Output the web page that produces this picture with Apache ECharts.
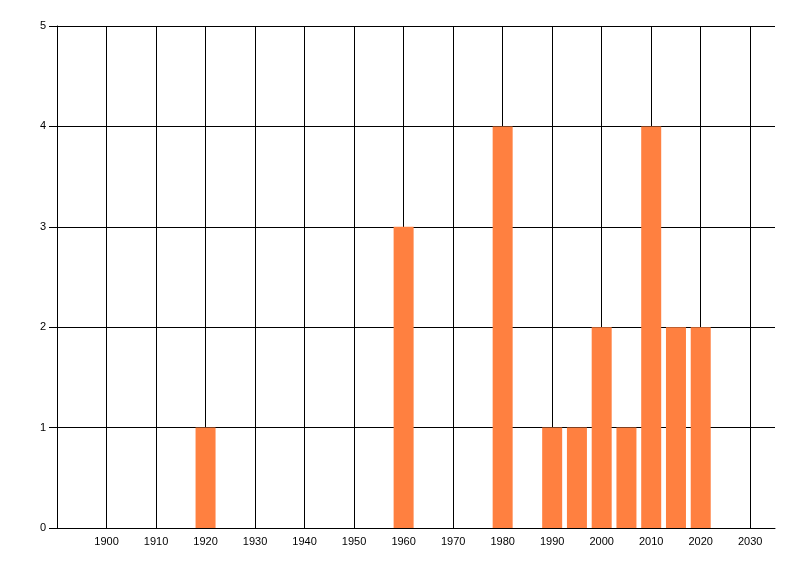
<!DOCTYPE html>
<html>
<head>
<meta charset="utf-8">
<script src="https://cdn.jsdelivr.net/npm/echarts@6/dist/echarts.min.js"></script>
<style>
  html, body { margin: 0; padding: 0; background: #fff; }
  #chart { width: 800px; height: 576px; }
</style>
</head>
<body>
<div id="chart"></div>
<script>
var years = [1920, 1960, 1980, 1990, 1995, 2000, 2005, 2010, 2015, 2020];
var counts = [1, 3, 4, 1, 1, 2, 1, 4, 2, 2];
var xMin = 1890, xMax = 2035, xStep = 10;
var yMin = 0, yMax = 5, yStep = 1;

var myChart = echarts.init(document.getElementById('chart'));
var textStyle = { fontFamily: 'Liberation Sans', fontSize: 11, color: '#000' };

var option = {
    animation: false,
    grid: { left: 57, right: 25, top: 26, bottom: 48 },
    xAxis: {
        type: 'value',
        min: xMin,
        max: xMax,
        interval: xStep,
        axisLine: { show: true, lineStyle: { color: '#000', width: 1 } },
        axisTick: { show: false },
        axisLabel: Object.assign({}, textStyle, {
            margin: 8,
            showMinLabel: false,
            formatter: function (v) { return (v === xMin || v === xMax) ? '' : String(v); }
        }),
        splitLine: { show: true, showMaxLine: false, lineStyle: { color: '#000', width: 1 } }
    },
    yAxis: {
        type: 'value',
        min: yMin,
        max: yMax,
        interval: yStep,
        axisLine: { show: true, lineStyle: { color: '#000', width: 1 } },
        axisTick: { show: true, length: 8, lineStyle: { color: '#000' } },
        axisLabel: Object.assign({}, textStyle, { margin: 11 }),
        splitLine: { show: true, lineStyle: { color: '#000', width: 1 } }
    },
    series: [{
        type: 'bar',
        barWidth: 20,
        itemStyle: { color: '#ff8040' },
        data: years.map(function (y, i) { return [y, counts[i]]; })
    }]
};
myChart.setOption(option);
</script>
</body>
</html>
